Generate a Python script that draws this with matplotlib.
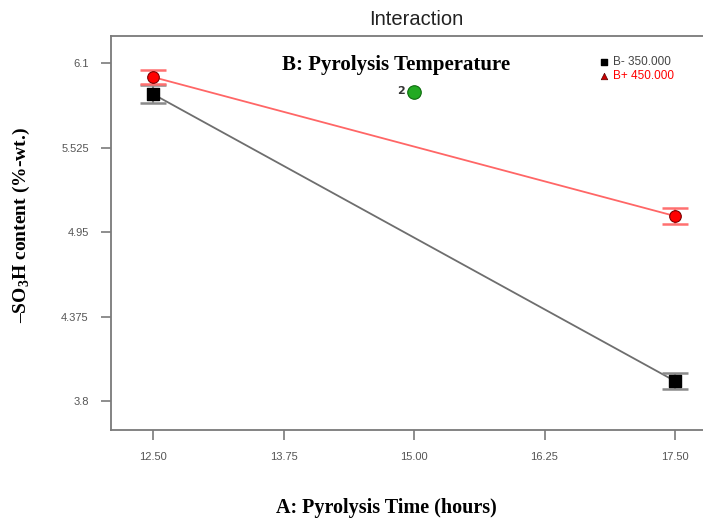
import matplotlib.pyplot as plt

plt.rcParams['mathtext.fontset'] = 'custom'
plt.rcParams['mathtext.rm'] = 'Liberation Serif'
plt.rcParams['mathtext.bf'] = 'Liberation Serif:bold'

# A: pyrolysis time (hours), B: pyrolysis temperature
time_levels = [12.5, 17.5]
low_temp = [5.889, 3.936]      # B- 350
low_err = [0.061, 0.054]
high_temp = [6.005, 5.059]     # B+ 450
high_err = [0.048, 0.054]
center_x, center_y = 15.0, 5.903
xticks = [12.50, 13.75, 15.00, 16.25, 17.50]
yticks = [3.8, 4.375, 4.95, 5.525, 6.1]
ytick_labels = ["3.8", "4.375", "4.95", "5.525", "6.1"]

fig = plt.figure(figsize=(7.03, 5.19), dpi=100)
ax = fig.add_axes([0.158, 0.1715, 0.842, 0.759])

grey = '#7a7a7a'

# lines through means
ax.plot(time_levels, low_temp, color='#6e6e6e', lw=1.3, zorder=2)
ax.plot(time_levels, high_temp, color='#ff6666', lw=1.3, zorder=2)

# error bars
ax.errorbar(time_levels, low_temp, yerr=low_err, fmt='none', ecolor='#8a8a8a',
            elinewidth=1.5, capsize=9.5, capthick=1.8, zorder=3)
ax.errorbar(time_levels, high_temp, yerr=high_err, fmt='none', ecolor='#ff7070',
            elinewidth=1.5, capsize=9.5, capthick=1.8, zorder=3)

ax.scatter(time_levels, low_temp, marker='s', s=70, color='black', zorder=4)
ax.scatter(time_levels, high_temp, marker='o', s=70, color='red',
           edgecolors='#7a0000', linewidths=0.8, zorder=4)

# center point (2 replicates)
ax.scatter([center_x], [center_y], marker='o', s=95, color='#22aa22',
           edgecolors='#0d6b0d', linewidths=0.8, zorder=4)
ax.text(center_x - 0.085, center_y + 0.005, "2", fontsize=8, fontweight='bold',
        color='#333333', ha='right', va='center')

ax.set_xlim(12.098, 17.768)
ax.set_ylim(3.603, 6.284)
ax.set_xticks(xticks)
ax.set_xticklabels([f"{t:.2f}" for t in xticks], family='Liberation Sans')
ax.set_yticks(yticks)
ax.set_yticklabels(ytick_labels, family='Liberation Sans')
ax.tick_params(direction='out', length=7, width=1.2, color=grey,
               labelcolor='#555555', labelsize=8, pad=9)
for s in ['left', 'top', 'bottom']:
    ax.spines[s].set_color(grey)
    ax.spines[s].set_linewidth(1.3)
ax.spines['right'].set_visible(False)

serif = 'Liberation Serif'
ax.text(0.481, 0.926, "B: Pyrolysis Temperature", transform=ax.transAxes,
        family=serif, fontweight='bold', fontsize=15, ha='center', va='center')

# legend
ax.scatter([0.832], [0.935], marker='s', s=22, color='black', transform=ax.transAxes)
ax.scatter([0.832], [0.898], marker='^', s=22, color='#cc0000',
           edgecolors='#550000', linewidths=0.5, transform=ax.transAxes)
ax.text(0.848, 0.935, "B- 350.000", transform=ax.transAxes, fontsize=8.5,
        color='#444444', family='Liberation Sans', va='center')
ax.text(0.848, 0.898, "B+ 450.000", transform=ax.transAxes, fontsize=8.5,
        color='red', family='Liberation Sans', va='center')

fig.text(0.592, 0.962, "Interaction", fontsize=14.5, family='Liberation Sans',
         color='#222222', ha='center', va='center')
fig.text(0.55, 0.021, "A: Pyrolysis Time (hours)", family=serif,
         fontweight='bold', fontsize=14.5, ha='center', va='center')
fig.text(0.031, 0.566, "–SO$_\\mathbf{3}$H content (%-wt.)", family=serif,
         fontweight='bold', fontsize=14, rotation=90, ha='center', va='center')

fig.savefig('out.png', dpi=100)
